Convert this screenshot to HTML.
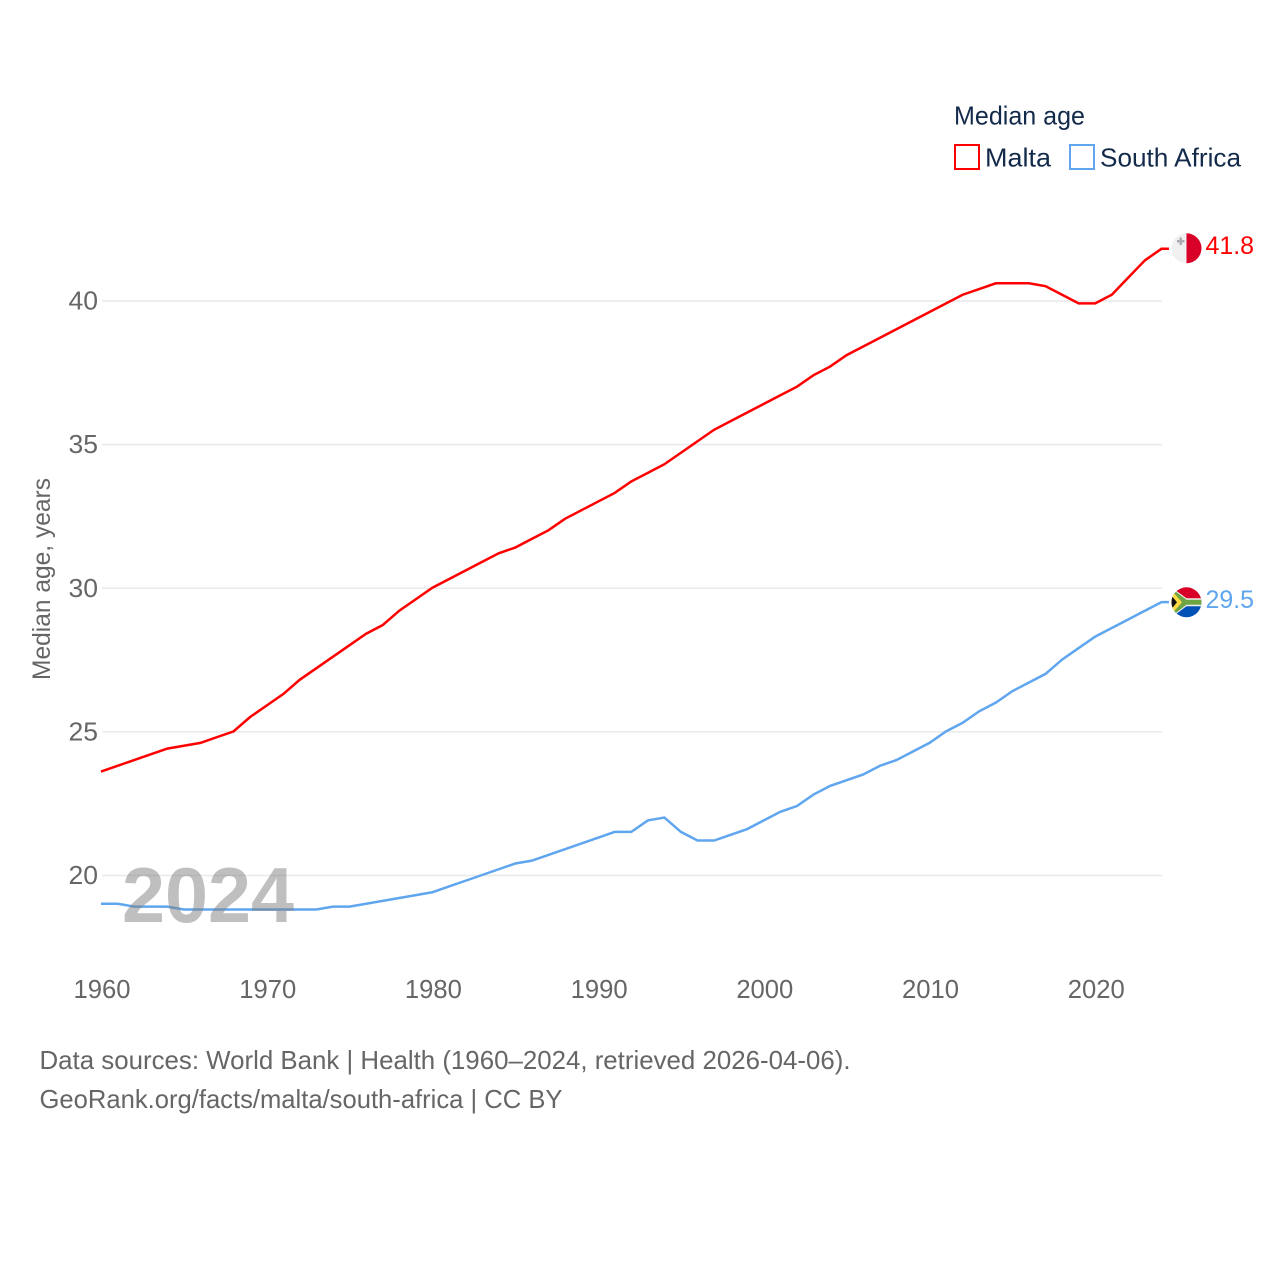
<!DOCTYPE html>
<html lang="en">
<head>
<meta charset="utf-8">
<title>Median age: Malta and South Africa</title>
<style>
html,body{margin:0;padding:0;background:#fff;width:1280px;height:1280px;overflow:hidden}
svg{display:block}
text{font-family:"Liberation Sans",sans-serif}
</style>
</head>
<body>
<svg id="chart" width="1280" height="1280" viewBox="0 0 1280 1280" xmlns="http://www.w3.org/2000/svg">
  <defs>
    <clipPath id="clip-mt"><circle cx="1186.5" cy="248.3" r="15"/></clipPath>
    <clipPath id="clip-za"><circle cx="1186.5" cy="602.3" r="15"/></clipPath>
  </defs>
  <g id="grid"></g>
  <g id="yticks"></g>
  <g id="xticks"></g>
  <text transform="translate(50,680) rotate(-90)" font-size="25" fill="#666" textLength="202" lengthAdjust="spacingAndGlyphs">Median age, years</text>
  <g id="series"></g>
  <text x="122" y="922" font-size="78" font-weight="700" fill="#808080" fill-opacity="0.5" textLength="172" lengthAdjust="spacingAndGlyphs">2024</text>

  <g>
    <text x="954" y="124.500" font-size="26" fill="#132a4a" textLength="131" lengthAdjust="spacingAndGlyphs">Median age</text>
    <rect x="955" y="145" width="24" height="24" fill="none" stroke="#ff0000" stroke-width="2"/>
    <text x="985" y="166.500" font-size="26" fill="#132a4a" textLength="66" lengthAdjust="spacingAndGlyphs">Malta</text>
    <rect x="1070" y="145" width="24" height="24" fill="none" stroke="#5fa6ee" stroke-width="2"/>
    <text x="1100" y="166.500" font-size="26" fill="#132a4a" textLength="141" lengthAdjust="spacingAndGlyphs">South Africa</text>
  </g>

  <g clip-path="url(#clip-mt)">
    <rect x="1171" y="233" width="15.500" height="31" fill="#f0f0f0"/>
    <rect x="1186.500" y="233" width="15" height="31" fill="#d80027"/>
    <path d="M1179.500 237.500h2.500v2.500h2.500v2.500h-2.500v2.500h-2.500v-2.500h-2.500v-2.500h2.500z" fill="#acabb1"/>
  </g>
  <text x="1205.500" y="254" font-size="25" fill="#ff0000" textLength="48.500" lengthAdjust="spacingAndGlyphs">41.8</text>

  <g clip-path="url(#clip-za)">
    <rect x="1171" y="587" width="31" height="15.500" fill="#d80027"/>
    <rect x="1171" y="602.300" width="31" height="15.500" fill="#0052b4"/>
    <path d="M1171 587l15.500 11.300h15.500v8h-15.500l-15.500 11.300z" fill="#f0f0f0"/>
    <path d="M1171 588l15.500 11.800h15.500v5h-15.500l-15.500 11.800z" fill="#6da544"/>
    <path d="M1171 592l9 10.300-9 10.300z" fill="#ffda44" stroke="#ffda44" stroke-width="3"/>
    <path d="M1171 595l6 7.300-6 7.300z" fill="#111"/>
  </g>
  <text x="1205.500" y="608" font-size="25" fill="#5fa6ee" textLength="48.500" lengthAdjust="spacingAndGlyphs">29.5</text>

  <text x="39.500" y="1069" font-size="26" fill="#666" textLength="811" lengthAdjust="spacingAndGlyphs">Data sources: World Bank | Health (1960–2024, retrieved 2026-04-06).</text>
  <text x="39.500" y="1108" font-size="26" fill="#666" textLength="523" lengthAdjust="spacingAndGlyphs">GeoRank.org/facts/malta/south-africa | CC BY</text>
</svg>
<script>
const startYear = 1960;
const malta = [23.6,23.8,24.0,24.2,24.4,24.5,24.6,24.8,25.0,25.5,25.9,26.3,26.8,27.2,27.6,28.0,28.4,28.7,29.2,29.6,30.0,30.3,30.6,30.9,31.2,31.4,31.7,32.0,32.4,32.7,33.0,33.3,33.7,34.0,34.3,34.7,35.1,35.5,35.8,36.1,36.4,36.7,37.0,37.4,37.7,38.1,38.4,38.7,39.0,39.3,39.6,39.9,40.2,40.4,40.6,40.6,40.6,40.5,40.2,39.9,39.9,40.2,40.8,41.4,41.8];
const southAfrica = [19.0,19.0,18.9,18.9,18.9,18.8,18.8,18.8,18.8,18.8,18.8,18.8,18.8,18.8,18.9,18.9,19.0,19.1,19.2,19.3,19.4,19.6,19.8,20.0,20.2,20.4,20.5,20.7,20.9,21.1,21.3,21.5,21.5,21.9,22.0,21.5,21.2,21.2,21.4,21.6,21.9,22.2,22.4,22.8,23.1,23.3,23.5,23.8,24.0,24.3,24.6,25.0,25.3,25.7,26.0,26.4,26.7,27.0,27.5,27.9,28.3,28.6,28.9,29.2,29.5];
const yTickValues = [20,25,30,35,40];
const xTickValues = [1960,1970,1980,1990,2000,2010,2020];

const NS = 'http://www.w3.org/2000/svg';
function xScale(year){ return 101 + (year - 1960) * (1161.5 - 101) / 64; }
function yScale(v){ return 875 - (v - 20) * (875 - 300.5) / 20; }
function gridY(v){ return 875.5 - (v - 20) * (875.5 - 301) / 20; }

const gridG = document.getElementById('grid');
const yG = document.getElementById('yticks');
const xG = document.getElementById('xticks');
const seriesG = document.getElementById('series');

yTickValues.forEach(function(v){
  const line = document.createElementNS(NS, 'line');
  
  
  line.setAttribute('x1', 102);
  line.setAttribute('x2', 1162);
  line.setAttribute('y1', gridY(v));
  line.setAttribute('y2', gridY(v));
  line.setAttribute('stroke', '#e9e9e9');
  line.setAttribute('stroke-width', '1.5');
  gridG.appendChild(line);

  const t = document.createElementNS(NS, 'text');
  
  
  t.setAttribute('x', 68.5);
  t.setAttribute('y', gridY(v) + 8.5);
  t.setAttribute('font-size', '26');
  t.setAttribute('fill', '#666');
  t.setAttribute('textLength', '29.500');
  t.setAttribute('lengthAdjust', 'spacingAndGlyphs');
  t.textContent = String(v);
  yG.appendChild(t);
});

xTickValues.forEach(function(y){
  const t = document.createElementNS(NS, 'text');
  
  
  t.setAttribute('x', xScale(y) - 27.5);
  t.setAttribute('y', 998);
  t.setAttribute('font-size', '26');
  t.setAttribute('fill', '#666');
  t.setAttribute('textLength', '57');
  t.setAttribute('lengthAdjust', 'spacingAndGlyphs');
  t.textContent = String(y);
  xG.appendChild(t);
});

function linePoints(values){
  const pts = values.map(function(v, i){ return xScale(startYear + i).toFixed(2) + ',' + yScale(v).toFixed(2); });
  pts.push('1169,' + yScale(values[values.length - 1]).toFixed(2));
  return pts.join(' ');
}

const maltaLine = document.createElementNS(NS, 'polyline');


maltaLine.setAttribute('points', linePoints(malta));
maltaLine.setAttribute('fill', 'none');
maltaLine.setAttribute('stroke', '#ff0000');
maltaLine.setAttribute('stroke-width', '2.5');
seriesG.appendChild(maltaLine);

const zaLine = document.createElementNS(NS, 'polyline');


zaLine.setAttribute('points', linePoints(southAfrica));
zaLine.setAttribute('fill', 'none');
zaLine.setAttribute('stroke', '#5fa6ee');
zaLine.setAttribute('stroke-width', '2.5');
seriesG.appendChild(zaLine);
</script>
</body>
</html>
